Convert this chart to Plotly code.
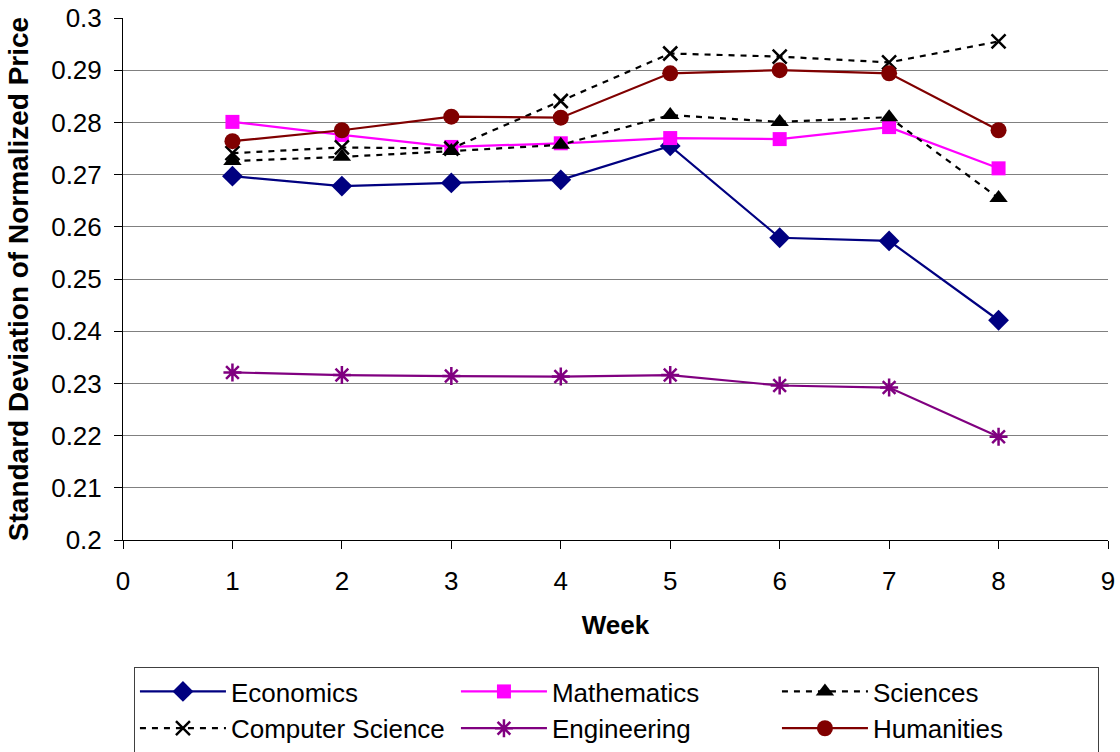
import plotly.graph_objects as go

weeks = [1, 2, 3, 4, 5, 6, 7, 8]

economics = [0.2697, 0.2678, 0.2684, 0.2690, 0.2755, 0.2579, 0.2573, 0.2421]
mathematics = [0.2801, 0.2776, 0.2753, 0.2760, 0.2770, 0.2768, 0.2791, 0.2712]
sciences = [0.2726, 0.2734, 0.2745, 0.2757, 0.2814, 0.2801, 0.2810, 0.2655]
computer_science = [0.2741, 0.2752, 0.2750, 0.2841, 0.2932, 0.2926, 0.2915, 0.2955]
engineering = [0.2321, 0.2316, 0.2314, 0.2313, 0.2316, 0.2296, 0.2292, 0.2198]
humanities = [0.2764, 0.2785, 0.2811, 0.2809, 0.2894, 0.2900, 0.2894, 0.2785]

y_ticks = [0.2, 0.21, 0.22, 0.23, 0.24, 0.25, 0.26, 0.27, 0.28, 0.29, 0.3]
y_tick_text = ["0.2", "0.21", "0.22", "0.23", "0.24", "0.25", "0.26", "0.27", "0.28", "0.29", "0.3"]
x_ticks = [0, 1, 2, 3, 4, 5, 6, 7, 8, 9]

FONT = "Liberation Sans, Arial, sans-serif"
DOTTED = "6px,6px"

series = [
    ("Economics", economics, "#000080", "solid", dict(symbol="diamond", size=16)),
    ("Mathematics", mathematics, "#FF00FF", "solid", dict(symbol="square", size=14)),
    ("Sciences", sciences, "#000000", DOTTED, dict(symbol="triangle-up", size=16)),
    ("Computer Science", computer_science, "#000000", DOTTED,
     dict(symbol="x-thin-open", size=14, line=dict(width=2.5, color="#000000"))),
    ("Engineering", engineering, "#800080", "solid",
     dict(symbol="asterisk-open", size=15, line=dict(width=2.5, color="#800080"))),
    ("Humanities", humanities, "#800000", "solid", dict(symbol="circle", size=16)),
]

fig = go.Figure()
for name, values, color, dash, marker in series:
    m = dict(color=color)
    m.update(marker)
    fig.add_trace(go.Scatter(
        x=weeks, y=values, name=name, mode="lines+markers",
        line=dict(color=color, width=2.2, dash=dash),
        marker=m,
    ))

fig.update_layout(
    width=1120, height=752,
    margin=dict(l=123, r=12, t=18, b=212),
    paper_bgcolor="white", plot_bgcolor="white",
    font=dict(family=FONT, size=26, color="#000000"),
    showlegend=True,
    legend=dict(
        orientation="h",
        xref="container", x=0.1196, xanchor="left",
        yref="container", y=0.113, yanchor="top",
        bordercolor="#404040", borderwidth=1,
        font=dict(family=FONT, size=26, color="#000000"),
        itemwidth=86,
        entrywidth=220,
        traceorder="normal",
    ),
    xaxis=dict(
        range=[0, 9], tickvals=x_ticks, ticks="outside", ticklen=8,
        tickcolor="#000000", showline=True, linecolor="#000000", linewidth=1,
        showgrid=False, zeroline=False, ticklabelstandoff=10, automargin=False,
        title=dict(text="<b>Week</b>", standoff=20,
                   font=dict(family=FONT, size=26)),
    ),
    yaxis=dict(
        range=[0.2, 0.3], tickvals=y_ticks, ticktext=y_tick_text,
        ticks="outside", ticklen=8, tickcolor="#000000",
        showline=True, linecolor="#000000", linewidth=1,
        showgrid=True, gridcolor="#808080", gridwidth=1, zeroline=False,
        ticklabelstandoff=7, automargin=False,
        title=dict(text="<b>Standard Deviation of Normalized Price</b>",
                   standoff=14, font=dict(family=FONT, size=28)),
    ),
)

fig.write_html("out.html")
